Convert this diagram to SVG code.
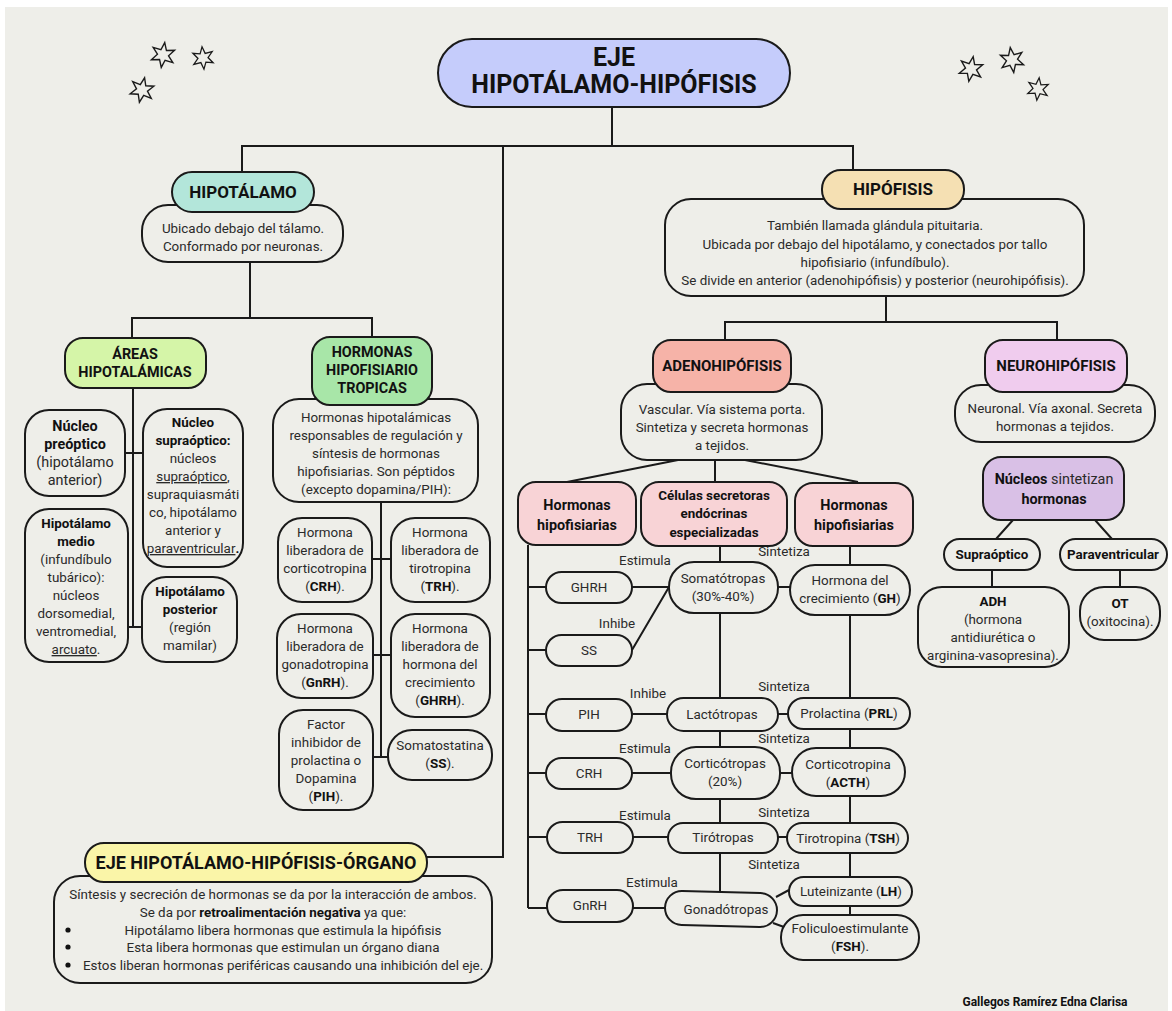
<svg xmlns="http://www.w3.org/2000/svg" width="1172" height="1011" viewBox="0 0 1172 1011">
<defs>
<style>
.bg{fill:#EEEEE9}
.box{fill:#EEEEE9;stroke:#1a1a1a;stroke-width:2}
.ln{fill:none;stroke:#1a1a1a;stroke-width:2}
text{font-family:"Roboto","Liberation Sans",sans-serif;fill:#2a2a2a;text-anchor:middle}
.h{font-weight:bold;fill:#111}
.t13{font-size:13.4px}
.t14{font-size:14.4px}
.lbl{font-size:13.4px;fill:#333}
.b{font-weight:bold;fill:#111}
.u{text-decoration:underline}
.st{text-anchor:start}
</style>
<path id="star" d="M0,-12.5 L2.8,-4.9 L10.8,-6.2 L5.6,0 L10.8,6.2 L2.8,4.9 L0,12.5 L-2.8,4.9 L-10.8,6.2 L-5.6,0 L-10.8,-6.2 L-2.8,-4.9 Z" fill="none" stroke="#1a1a1a" stroke-width="1.4"/>
</defs>
<rect x="0" y="0" width="1172" height="1011" fill="#ffffff"/>
<rect x="5" y="7" width="1163" height="1004" class="bg"/>

<g id="stars">
<use href="#star" transform="translate(163,55) rotate(8)"/>
<use href="#star" transform="translate(203,58) rotate(-5) scale(0.9)"/>
<use href="#star" transform="translate(142,90) rotate(12)"/>
<use href="#star" transform="translate(971,69) rotate(10)"/>
<use href="#star" transform="translate(1012,60) rotate(-8)"/>
<use href="#star" transform="translate(1038,89) rotate(6) scale(0.9)"/>
</g>

<g id="connectors">
<path class="ln" d="M612,107 V146 M242,172 V146 H853 V170"/>
<path class="ln" d="M503,146 V857 H427"/>
<path class="ln" d="M250,262 V318 M132,338 V318 H372 V337"/>
<path class="ln" d="M133,388 V627 M125,453 H143 M128,627 H142"/>
<path class="ln" d="M381,502 V757 M372,559 H392 M373,655 H391 M373,757 H389"/>
<path class="ln" d="M886,296 V322 M725,340 V322 H1057 V340"/>
<path class="ln" d="M678,460 L567,482 M715,460 V482 M745,460 L858,482"/>
<path class="ln" d="M528,545 V908 M528,587 H546 M528,650 H546 M528,714 H546 M528,773 H546 M528,837 H547 M528,908 H547"/>
<path class="ln" d="M720,546 V562 M720,613 V698 M720,731 V747 M720,799 V823 M720,853 V893"/>
<path class="ln" d="M850,546 V565 M850,615 V698 M850,729 V748 M850,796 V823 M850,853 V877 M850,906 V915"/>
<path class="ln" d="M632,587 H669 M632,650 L669,587 M632,714 H667 M632,773 H671 M633,837 H668 M633,908 H666"/>
<path class="ln" d="M778,587 H790 M778,714 H788 M780,773 H792 M778,837 H787 M776,897 L789,890 M773,923 L784,927"/>
<path class="ln" d="M1013,520 L996,539 M1095,520 L1112,539 M992,570 V587 M1120,570 V587"/>
</g>

<g id="edge-labels" class="lbl">
<text x="645" y="565">Estimula</text>
<text x="617" y="628">Inhibe</text>
<text x="648" y="698">Inhibe</text>
<text x="645" y="753">Estimula</text>
<text x="645" y="820">Estimula</text>
<text x="652" y="887">Estimula</text>
<text x="784" y="556">Sintetiza</text>
<text x="784" y="691">Sintetiza</text>
<text x="784" y="743">Sintetiza</text>
<text x="784" y="817">Sintetiza</text>
<text x="774" y="869">Sintetiza</text>
</g>

<g id="title">
<rect x="438" y="39" width="352" height="68" rx="34" fill="#C5CCFB" stroke="#1a1a1a" stroke-width="2"/>
<text x="614" y="66" class="h" font-size="25">EJE</text>
<text x="614" y="93" class="h" font-size="25">HIPOTÁLAMO-HIPÓFISIS</text>
</g>

<g id="hipotalamo">
<rect class="box" x="142" y="205" width="201" height="57" rx="26"/>
<text x="243" y="233" class="t13">Ubicado debajo del tálamo.</text>
<text x="243" y="251" class="t13">Conformado por neuronas.</text>
<rect x="172" y="172" width="142" height="40" rx="20" fill="#B3E6DA" stroke="#1a1a1a" stroke-width="2"/>
<text x="243" y="198" class="h" font-size="17">HIPOTÁLAMO</text>
</g>

<g id="areas">
<rect x="65" y="338" width="141" height="50" rx="18" fill="#D5F5A8" stroke="#1a1a1a" stroke-width="2"/>
<text x="135" y="359" class="h t14">ÁREAS</text>
<text x="135" y="377" class="h t14">HIPOTALÁMICAS</text>
</g>

<g id="preoptico">
<rect class="box" x="25" y="410" width="100" height="86" rx="24"/>
<text x="75" y="431" class="t14"><tspan class="b">Núcleo</tspan></text>
<text x="75" y="449" class="t14"><tspan class="b">preóptico</tspan></text>
<text x="75" y="467" class="t14">(hipotálamo</text>
<text x="75" y="485" class="t14">anterior)</text>
</g>

<g id="supraoptico">
<rect class="box" x="143" y="409" width="100" height="158" rx="24"/>
<text x="193" y="427" class="t13"><tspan class="b">Núcleo</tspan></text>
<text x="193" y="445" class="t13"><tspan class="b">supraóptico:</tspan></text>
<text x="193" y="463" class="t13">núcleos</text>
<text x="193" y="481" class="t13"><tspan class="u">supraóptico</tspan>,</text>
<text x="193" y="499" class="t13">supraquiasmáti</text>
<text x="193" y="517" class="t13">co, hipotálamo</text>
<text x="193" y="535" class="t13">anterior y</text>
<text x="193" y="553" class="t13"><tspan class="u">paraventricular</tspan><tspan class="b">.</tspan></text>
</g>

<g id="medio">
<rect class="box" x="25" y="509" width="103" height="153" rx="24"/>
<text x="76" y="528" class="t13"><tspan class="b">Hipotálamo</tspan></text>
<text x="76" y="546" class="t13"><tspan class="b">medio</tspan></text>
<text x="76" y="564" class="t13">(infundíbulo</text>
<text x="76" y="582" class="t13">tubárico):</text>
<text x="76" y="600" class="t13">núcleos</text>
<text x="76" y="618" class="t13">dorsomedial,</text>
<text x="76" y="636" class="t13">ventromedial,</text>
<text x="76" y="654" class="t13"><tspan class="u">arcuato</tspan>.</text>
</g>

<g id="posterior">
<rect class="box" x="142" y="577" width="95" height="85" rx="24"/>
<text x="190" y="596" class="t13"><tspan class="b">Hipotálamo</tspan></text>
<text x="190" y="614" class="t13"><tspan class="b">posterior</tspan></text>
<text x="190" y="632" class="t13">(región</text>
<text x="190" y="650" class="t13">mamilar)</text>
</g>

<g id="hormonas-tropicas">
<rect class="box" x="273" y="399" width="205" height="103" rx="26"/>
<text x="376" y="422" class="t13">Hormonas hipotalámicas</text>
<text x="376" y="440" class="t13">responsables de regulación y</text>
<text x="376" y="458" class="t13">síntesis de hormonas</text>
<text x="376" y="476" class="t13">hipofisiarias. Son péptidos</text>
<text x="376" y="494" class="t13">(excepto dopamina/PIH):</text>
<rect x="312" y="337" width="120" height="68" rx="18" fill="#A8E6A8" stroke="#1a1a1a" stroke-width="2"/>
<text x="372" y="357" class="h t14">HORMONAS</text>
<text x="372" y="375" class="h t14">HIPOFISIARIO</text>
<text x="372" y="393" class="h t14">TROPICAS</text>
</g>

<g id="crh-h">
<rect class="box" x="278" y="518" width="94" height="84" rx="24"/>
<text x="325" y="537" class="t13">Hormona</text>
<text x="325" y="555" class="t13">liberadora de</text>
<text x="325" y="573" class="t13">corticotropina</text>
<text x="325" y="591" class="t13">(<tspan class="b">CRH</tspan>).</text>
</g>
<g id="trh-h">
<rect class="box" x="391" y="518" width="99" height="84" rx="24"/>
<text x="440" y="537" class="t13">Hormona</text>
<text x="440" y="555" class="t13">liberadora de</text>
<text x="440" y="573" class="t13">tirotropina</text>
<text x="440" y="591" class="t13">(<tspan class="b">TRH</tspan>).</text>
</g>
<g id="gnrh-h">
<rect class="box" x="277" y="614" width="96" height="84" rx="24"/>
<text x="325" y="633" class="t13">Hormona</text>
<text x="325" y="651" class="t13">liberadora de</text>
<text x="325" y="669" class="t13">gonadotropina</text>
<text x="325" y="687" class="t13">(<tspan class="b">GnRH</tspan>).</text>
</g>
<g id="ghrh-h">
<rect class="box" x="391" y="614" width="99" height="103" rx="24"/>
<text x="440" y="633" class="t13">Hormona</text>
<text x="440" y="651" class="t13">liberadora de</text>
<text x="440" y="669" class="t13">hormona del</text>
<text x="440" y="687" class="t13">crecimiento</text>
<text x="440" y="705" class="t13">(<tspan class="b">GHRH</tspan>).</text>
</g>
<g id="pih-h">
<rect class="box" x="279" y="710" width="94" height="100" rx="24"/>
<text x="326" y="729" class="t13">Factor</text>
<text x="326" y="747" class="t13">inhibidor de</text>
<text x="326" y="765" class="t13">prolactina o</text>
<text x="326" y="783" class="t13">Dopamina</text>
<text x="326" y="801" class="t13">(<tspan class="b">PIH</tspan>).</text>
</g>
<g id="ss-h">
<rect class="box" x="388" y="730" width="104" height="50" rx="24"/>
<text x="440" y="750" class="t13">Somatostatina</text>
<text x="440" y="768" class="t13">(<tspan class="b">SS</tspan>).</text>
</g>

<g id="eje-organo">
<rect class="box" x="54" y="876" width="438" height="107" rx="26"/>
<text x="273" y="899" class="t13">Síntesis y secreción de hormonas se da por la interacción de ambos.</text>
<text x="273" y="917" class="t13">Se da por <tspan class="b">retroalimentación negativa</tspan> ya que:</text>
<circle cx="68" cy="930" r="2.6" fill="#111"/>
<circle cx="68" cy="947" r="2.6" fill="#111"/>
<circle cx="68" cy="965" r="2.6" fill="#111"/>
<text x="283" y="935" class="t13">Hipotálamo libera hormonas que estimula la hipófisis</text>
<text x="283" y="952" class="t13">Esta libera hormonas que estimulan un órgano diana</text>
<text x="83" y="970" class="t13 st">Estos liberan hormonas periféricas causando una inhibición del eje.</text>
<rect x="85" y="843" width="342" height="39" rx="19" fill="#FAF5A8" stroke="#1a1a1a" stroke-width="2"/>
<text x="256" y="869" class="h" font-size="18">EJE HIPOTÁLAMO-HIPÓFISIS-ÓRGANO</text>
</g>

<g id="hipofisis">
<rect class="box" x="665" y="199" width="419" height="97" rx="26"/>
<text x="875" y="230" class="t13">También llamada glándula pituitaria.</text>
<text x="875" y="249" class="t13">Ubicada por debajo del hipotálamo, y conectados por tallo</text>
<text x="875" y="267" class="t13">hipofisiario (infundíbulo).</text>
<text x="875" y="285" class="t13">Se divide en anterior (adenohipófisis) y posterior (neurohipófisis).</text>
<rect x="822" y="170" width="142" height="39" rx="19" fill="#F5E0B3" stroke="#1a1a1a" stroke-width="2"/>
<text x="893" y="195" class="h" font-size="17">HIPÓFISIS</text>
</g>

<g id="adenohipofisis">
<rect class="box" x="621" y="384" width="201" height="76" rx="26"/>
<text x="722" y="414" class="t13">Vascular. Vía sistema porta.</text>
<text x="722" y="432" class="t13">Sintetiza y secreta hormonas</text>
<text x="722" y="450" class="t13">a tejidos.</text>
<rect x="653" y="340" width="138" height="52" rx="18" fill="#F6B3A8" stroke="#1a1a1a" stroke-width="2"/>
<text x="722" y="371" class="h" font-size="15">ADENOHIPÓFISIS</text>
</g>

<g id="hormonas-hip-1">
<rect x="518" y="482" width="118" height="63" rx="18" fill="#F8D3D6" stroke="#1a1a1a" stroke-width="2"/>
<text x="577" y="510" class="h t14">Hormonas</text>
<text x="577" y="530" class="h t14">hipofisiarias</text>
</g>
<g id="celulas">
<rect x="641" y="482" width="146" height="64" rx="18" fill="#F8D3D6" stroke="#1a1a1a" stroke-width="2"/>
<text x="714" y="500" class="h t13">Células secretoras</text>
<text x="714" y="518" class="h t13">endócrinas</text>
<text x="714" y="537" class="h t13">especializadas</text>
</g>
<g id="hormonas-hip-2">
<rect x="795" y="483" width="118" height="63" rx="18" fill="#F8D3D6" stroke="#1a1a1a" stroke-width="2"/>
<text x="854" y="510" class="h t14">Hormonas</text>
<text x="854" y="530" class="h t14">hipofisiarias</text>
</g>

<g id="ghrh"><rect class="box" x="546" y="572" width="86" height="31" rx="15.5"/><text x="589" y="592" class="t13">GHRH</text></g>
<g id="ss"><rect class="box" x="546" y="635" width="86" height="31" rx="15.5"/><text x="589" y="655" class="t13">SS</text></g>
<g id="pih"><rect class="box" x="546" y="699" width="86" height="32" rx="16"/><text x="589" y="719" class="t13">PIH</text></g>
<g id="crh"><rect class="box" x="546" y="758" width="86" height="31" rx="15.5"/><text x="589" y="778" class="t13">CRH</text></g>
<g id="trh"><rect class="box" x="547" y="822" width="86" height="31" rx="15.5"/><text x="590" y="842" class="t13">TRH</text></g>
<g id="gnrh"><rect class="box" x="547" y="890" width="86" height="32" rx="16"/><text x="590" y="910" class="t13">GnRH</text></g>

<g id="somatotropas"><rect class="box" x="669" y="562" width="109" height="51" rx="25"/><text x="723" y="583" class="t13">Somatótropas</text><text x="723" y="601" class="t13">(30%-40%)</text></g>
<g id="lactotropas"><rect class="box" x="667" y="698" width="111" height="33" rx="16.5"/><text x="722" y="719" class="t13">Lactótropas</text></g>
<g id="corticotropas"><rect class="box" x="671" y="747" width="109" height="52" rx="25"/><text x="725" y="768" class="t13">Corticótropas</text><text x="725" y="786" class="t13">(20%)</text></g>
<g id="tirotropas"><rect class="box" x="668" y="823" width="110" height="30" rx="15"/><text x="723" y="842" class="t13">Tirótropas</text></g>
<g id="gonadotropas"><rect class="box" x="665" y="892" width="112" height="34" rx="17" transform="rotate(1.5 721 909)"/><text x="726" y="914" class="t13">Gonadótropas</text></g>

<g id="gh"><rect class="box" x="790" y="565" width="120" height="50" rx="25"/><text x="850" y="585" class="t13">Hormona del</text><text x="850" y="603" class="t13">crecimiento (<tspan class="b">GH</tspan>)</text></g>
<g id="prl"><rect class="box" x="788" y="698" width="122" height="31" rx="15.5"/><text x="849" y="718" class="t13">Prolactina (<tspan class="b">PRL</tspan>)</text></g>
<g id="acth"><rect class="box" x="792" y="748" width="113" height="48" rx="24"/><text x="848" y="769" class="t13">Corticotropina</text><text x="848" y="787" class="t13">(<tspan class="b">ACTH</tspan>)</text></g>
<g id="tsh"><rect class="box" x="787" y="823" width="121" height="30" rx="15"/><text x="848" y="843" class="t13">Tirotropina (<tspan class="b">TSH</tspan>)</text></g>
<g id="lh"><rect class="box" x="789" y="877" width="123" height="29" rx="14.5"/><text x="851" y="896" class="t13">Luteinizante (<tspan class="b">LH</tspan>)</text></g>
<g id="fsh"><rect class="box" x="781" y="915" width="138" height="45" rx="22"/><text x="850" y="933" class="t13">Foliculoestimulante</text><text x="850" y="951" class="t13">(<tspan class="b">FSH</tspan>).</text></g>

<g id="neurohipofisis">
<rect class="box" x="955" y="385" width="200" height="57" rx="26"/>
<text x="1055" y="413" class="t13">Neuronal. Vía axonal. Secreta</text>
<text x="1055" y="431" class="t13">hormonas a tejidos.</text>
<rect x="985" y="340" width="142" height="52" rx="18" fill="#F0CCEE" stroke="#1a1a1a" stroke-width="2"/>
<text x="1056" y="371" class="h" font-size="15">NEUROHIPÓFISIS</text>
</g>

<g id="nucleos">
<rect x="983" y="457" width="141" height="63" rx="18" fill="#D9C0E6" stroke="#1a1a1a" stroke-width="2"/>
<text x="1054" y="484" class="t14"><tspan class="b">Núcleos</tspan> sintetizan</text>
<text x="1054" y="504" class="t14"><tspan class="b">hormonas</tspan></text>
</g>
<g id="supraoptico-n"><rect class="box" x="944" y="539" width="96" height="31" rx="15.5"/><text x="992" y="559" class="h t13">Supraóptico</text></g>
<g id="paraventricular-n"><rect class="box" x="1060" y="539" width="107" height="31" rx="15.5"/><text x="1113" y="559" class="h t13">Paraventricular</text></g>
<g id="adh">
<rect class="box" x="918" y="587" width="151" height="80" rx="24"/>
<text x="993" y="606" class="t13"><tspan class="b">ADH</tspan></text>
<text x="993" y="624" class="t13">(hormona</text>
<text x="993" y="642" class="t13">antidiurética o</text>
<text x="993" y="660" class="t13">arginina-vasopresina).</text>
</g>
<g id="ot">
<rect class="box" x="1080" y="587" width="80" height="53" rx="24"/>
<text x="1120" y="608" class="t13"><tspan class="b">OT</tspan></text>
<text x="1120" y="626" class="t13">(oxitocina).</text>
</g>

<text x="1045" y="1006" class="h" font-size="12">Gallegos Ramírez Edna Clarisa</text>
</svg>
